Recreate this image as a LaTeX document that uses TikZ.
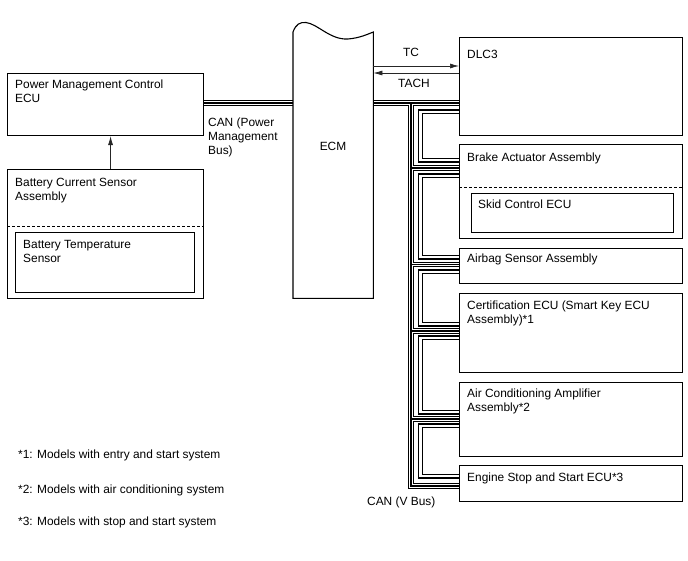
\documentclass[tikz,border=0pt]{standalone}
\usepackage{fontspec}
\setmainfont{Liberation Sans}
\usetikzlibrary{positioning,arrows.meta,backgrounds}

\tikzset{
  unit/.style={draw, line width=1.1pt, anchor=north west, inner sep=0pt},
  subunit/.style={draw, line width=1.4pt, anchor=north west, inner sep=0pt},
  tag/.style={inner sep=0pt, align=left},
  split/.style={dash pattern=on 3pt off 2pt, line width=0.9pt},
  sigline/.style={line width=0.7pt, black!85, -{Latex[length=9pt,width=5pt]}},
  wirethick/.style={line width=1.9pt},
  wirethin/.style={line width=0.7pt},
}

\begin{document}
\begin{tikzpicture}[x=1pt, y=-1pt, every node/.style={font=\fontsize{11.9}{14}\selectfont}]
\useasboundingbox (0,0) rectangle (688,560);

% power management side
\node[unit, minimum width=196pt, minimum height=62pt] (pm) at (7,73) {};
\node[tag, below right=7pt and 8pt of pm.north west] (pmtxt) {Power Management Control\\ECU};
\node[unit, minimum width=196pt, minimum height=129pt] (bcs) at (7,169) {};
\node[tag, below right=9pt and 8pt of bcs.north west] (bcstxt) {Battery Current Sensor\\Assembly};
\draw[split] (bcs.west |- 0,226) -- (bcs.east |- 0,226);
\node[subunit, minimum width=179pt, minimum height=60pt] (bts) at (15,232) {};
\node[tag, below right=8pt and 8pt of bts.north west] (btstxt) {Battery Temperature\\Sensor};
\draw[sigline] ([xshift=5pt]bcs.north) -- ([xshift=5pt]pm.south);
\node[tag, anchor=north west] (pmbus) at (208,118) {CAN (Power\\Management\\Bus)};

% ECM
\node[minimum width=80pt, minimum height=266pt, anchor=north west, inner sep=0pt] (ecm) at (293,32) {};
\draw[line width=1.1pt] (ecm.south west) -- (ecm.north west)
    .. controls (296,24) and (300,22) .. (306,22.5)
    .. controls (318,24) and (330,40) .. (348,39)
    .. controls (360,38) and (368,34) .. (ecm.north east)
    -- (ecm.south east) -- cycle;
\node (ecmtxt) at (333,146) {ECM};

% right column
\node[unit, minimum width=223pt, minimum height=98pt] (dlc) at (459,37) {};
\node[tag, below right=13pt and 8pt of dlc.north west] (dlctxt) {DLC3};
\node[unit, minimum width=223pt, minimum height=94pt] (brake) at (459,144) {};
\node[tag, below right=9pt and 8pt of brake.north west] (braketxt) {Brake Actuator Assembly};
\draw[split] (brake.west |- 0,187) -- (brake.east |- 0,187);
\node[subunit, minimum width=202pt, minimum height=39pt] (skid) at (471,193) {};
\node[tag, below right=7pt and 7pt of skid.north west] (skidtxt) {Skid Control ECU};
\node[unit, minimum width=223pt, minimum height=35pt] (airbag) at (459,248) {};
\node[tag, below right=6pt and 8pt of airbag.north west] (airbagtxt) {Airbag Sensor Assembly};
\node[unit, minimum width=223pt, minimum height=79pt] (cert) at (459,293) {};
\node[tag, below right=8pt and 8pt of cert.north west] (certtxt) {Certification ECU (Smart Key ECU\\Assembly)*1};
\node[unit, minimum width=223pt, minimum height=74pt] (ac) at (459,382) {};
\node[tag, below right=7pt and 8pt of ac.north west] (actxt) {Air Conditioning Amplifier\\Assembly*2};
\node[unit, minimum width=223pt, minimum height=36pt] (eng) at (459,465) {};
\node[tag, below right=8pt and 8pt of eng.north west] (engtxt) {Engine Stop and Start ECU*3};

% TC / TACH
\draw[sigline] (ecm.east |- 0,66) -- (dlc.west |- 0,66);
\draw[sigline] (dlc.west |- 0,73) -- (ecm.east |- 0,73);
\node (tc) at (411,52.5) {TC};
\node (tach) at (414,83) {TACH};

% CAN lines
\begin{scope}[on background layer]
  \foreach \lw/\lc in {5.6pt/black,3.6pt/white,1.6pt/black}
    \draw[line width=\lw, draw=\lc] (pm.east |- 0,103) -- (ecm.west |- 0,103)
      (ecm.east |- 0,103) -- (dlc.west |- 0,103)
      (411,103) -- (411,486) -- (eng.west |- 0,486)
      (411,168) -- (brake.west |- 0,168)
      (411,264.5) -- (airbag.west |- 0,264.5)
      (411,331) -- (cert.west |- 0,331)
      (411,419) -- (ac.west |- 0,419);
  \foreach \a/\b/\ya/\yb in {dlc/brake/110/162, brake/airbag/174/259,
      airbag/cert/270/326, cert/ac/336/414, ac/eng/424/478} {
    \draw[wirethick] (\a.west |- 0,\ya) -| (418.5,\yb) -- (\b.west |- 0,\yb);
    \draw[wirethin] (\a.west |- 0,\ya+3.5) -| (422,\yb-3.5) -- (\b.west |- 0,\yb-3.5);
  }
\end{scope}
\node[tag, anchor=west] (vbus) at (367,502) {CAN (V Bus)};

% notes
\node[tag, anchor=west] (note1) at (18,455) {*1: Models with entry and start system};
\node[tag, anchor=west] (note2) at (18,490) {*2: Models with air conditioning system};
\node[tag, anchor=west] (note3) at (18,522) {*3: Models with stop and start system};
\end{tikzpicture}
\end{document}
